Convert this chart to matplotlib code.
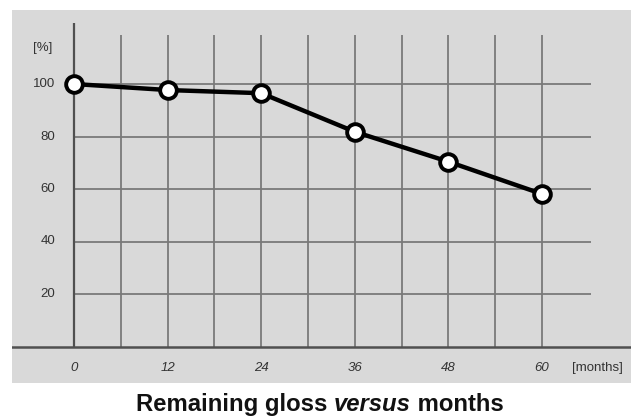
import matplotlib
matplotlib.use("Agg")
import matplotlib.pyplot as plt

months = [0, 12, 24, 36, 48, 60]
gloss = [100, 97.7, 96.5, 81.8, 70.4, 58.1]
yticks = [20, 40, 60, 80, 100]
xgrid = [6, 12, 18, 24, 30, 36, 42, 48, 54, 60]

plt.rcParams['font.family'] = ['Liberation Sans', 'DejaVu Sans']

W, H = 634, 416
fig = plt.figure(figsize=(W / 100, H / 100), dpi=100)
fig.patch.set_facecolor('white')

# axes covering the grey panel
L, R, T, B = 12, 631, 10, 383
ax = fig.add_axes([L / W, 1 - B / H, (R - L) / W, (B - T) / H])
ax.set_facecolor('#d9d9d9')
for s in ax.spines.values():
    s.set_visible(False)
ax.set_xticks([]); ax.set_yticks([])

px_m = 7.8      # px per month
px_p = 2.625    # px per percent
x0, y0 = 74, 346.5
ax.set_xlim((L - x0) / px_m, (R - x0) / px_m)
ax.set_ylim((y0 - B) / px_p, (y0 - T) / px_p)

gcol = '#7a7a7a'
ax.vlines(xgrid, 0, (y0 - 35) / px_p, color=gcol, lw=1.3, zorder=1)
ax.hlines(yticks, 0, 66.3, color=gcol, lw=1.3, zorder=1)
ax.vlines([0], 0, (y0 - 23) / px_p, color='#505050', lw=1.6, zorder=2)
ax.axhline(0, color='#505050', lw=1.8, zorder=2)

ax.plot(months, gloss, color='black', lw=3.2, marker='o', ms=12,
        mfc='white', mec='black', mew=2.8, zorder=5, clip_on=False)

tcol = '#333333'
fs = 9.5
for v in yticks:
    ax.text(-2.4, v, str(v), ha='right', va='center', fontsize=fs, color=tcol)
ax.text((43 - x0) / px_m, (y0 - 48) / px_p, '[%]', ha='center', va='center',
        fontsize=fs, color=tcol)
for m in months:
    ax.text(m, -8.2, str(m), ha='center', va='center', fontsize=fs,
            style='italic', color=tcol)
ax.text((597 - x0) / px_m, -8.2, '[months]', ha='center', va='center',
        fontsize=fs, color=tcol)

# title with mixed styles
parts = [('Remaining gloss ', 'normal'), ('versus', 'italic'), (' months', 'normal')]
fig.canvas.draw()
r = fig.canvas.get_renderer()
texts = []
for s, st in parts:
    t = fig.text(0, 0, s, fontsize=17.2, fontweight='bold', style=st,
                 ha='left', va='baseline', color='#111111')
    texts.append(t)
widths = [t.get_window_extent(r).width for t in texts]
total = sum(widths)
xs = 320 - total / 2
base = H - 411
for t, w in zip(texts, widths):
    t.set_position((xs / W, base / H))
    xs += w

fig.savefig('out.png', dpi=100, facecolor='white')
